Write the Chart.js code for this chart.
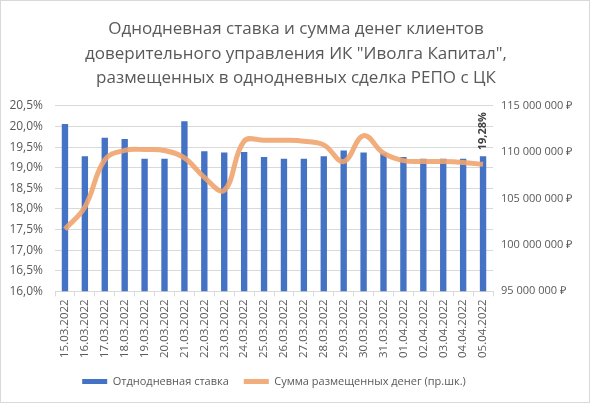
<!DOCTYPE html>
<html lang="ru">
<head>
<meta charset="utf-8">
<title>Однодневная ставка и сумма денег клиентов</title>
<script src="https://cdn.jsdelivr.net/npm/chart.js@4.4.1/dist/chart.umd.min.js"></script>
<style>
    html, body {
        margin: 0;
        padding: 0;
        background: #ffffff;
    }
    #repoChart {
        display: block;
    }
</style>
</head>
<body>
<canvas id="repoChart" width="590" height="403"></canvas>
<script>

const dates = [
    "15.03.2022", "16.03.2022", "17.03.2022", "18.03.2022", "19.03.2022",
    "20.03.2022", "21.03.2022", "22.03.2022", "23.03.2022", "24.03.2022",
    "25.03.2022", "26.03.2022", "27.03.2022", "28.03.2022", "29.03.2022",
    "30.03.2022", "31.03.2022", "01.04.2022", "02.04.2022", "03.04.2022",
    "04.04.2022", "05.04.2022"
];

// однодневная ставка, %
const rates = [
    20.06, 19.28, 19.73, 19.70, 19.22,
    19.22, 20.13, 19.40, 19.37, 19.38,
    19.26, 19.22, 19.22, 19.28, 19.42,
    19.37, 19.35, 19.26, 19.22, 19.22,
    19.22, 19.28
];

// сумма размещенных денег, руб.
const amounts = [
    101700000, 104100000, 109200000, 110200000, 110300000,
    110200000, 109400000, 107300000, 105900000, 111200000,
    111300000, 111300000, 111200000, 110800000, 109000000,
    111800000, 109900000, 109100000, 109000000, 109000000,
    108900000, 108700000
];

const titleLines = [
    "Однодневная ставка и сумма денег клиентов",
    "доверительного управления ИК \"Иволга Капитал\",",
    "размещенных в однодневных сделка РЕПО с ЦК"
];

const rateLabel = "Отднодневная ставка";
const amountLabel = "Сумма размещенных денег (пр.шк.)";

const rateTicks = { min: 16, max: 20.5, step: 0.5 };
const amountTicks = { min: 95000000, max: 115000000, step: 5000000 };

const BLUE = "#4472C4";
const ORANGE = "rgba(241, 164, 110, 0.9)";
const TEXT = "#595959";
const FONT = "'Open Sans', 'Liberation Sans', sans-serif";


function formatPercent(v) {

    return v.toFixed(1).replace(".", ",") + "%";

}

function formatRub(v) {

    return Math.round(v).toString().replace(/\B(?=(\d{3})+(?!\d))/g, " ") + " ₽";

}


/*-----------------------------------
  Белый фон и рамка области диаграммы
-----------------------------------*/

const chartFrame = {

    id: "chartFrame",

    beforeDraw(chart) {

        const ctx = chart.ctx;

        ctx.save();
        ctx.fillStyle = "#ffffff";
        ctx.fillRect(0, 0, chart.width, chart.height);
        ctx.strokeStyle = "#d9d9d9";
        ctx.lineWidth = 1;
        ctx.strokeRect(0.5, 0.5, chart.width - 1, chart.height - 1);
        ctx.restore();

    }

};


/*-----------------------------------
  Подпись последнего значения ставки
-----------------------------------*/

const lastRateLabel = {

    id: "lastRateLabel",

    afterDatasetsDraw(chart) {

        const meta = chart.getDatasetMeta(0);
        const last = meta.data[meta.data.length - 1];

        if (!last) {
            return;
        }

        const text = rates[rates.length - 1].toFixed(2).replace(".", ",") + "%";
        const ctx = chart.ctx;

        ctx.save();
        ctx.translate(last.x, last.y - 6);
        ctx.rotate(-Math.PI / 2);
        ctx.font = "bold 11px " + FONT;
        ctx.fillStyle = "#404040";
        ctx.textAlign = "left";
        ctx.textBaseline = "middle";
        ctx.fillText(text, 0, 0);
        ctx.restore();

    }

};


const canvas = document.getElementById("repoChart");

new Chart(canvas, {

    type: "bar",

    data: {

        labels: dates,

        datasets: [

            {
                type: "bar",
                label: rateLabel,
                data: rates,
                yAxisID: "yRate",
                backgroundColor: BLUE,
                barPercentage: 0.32,
                categoryPercentage: 1,
                order: 2
            },

            {
                type: "line",
                label: amountLabel,
                data: amounts,
                yAxisID: "yAmount",
                borderColor: ORANGE,
                backgroundColor: ORANGE,
                borderWidth: 5,
                tension: 0.4,
                pointRadius: 0,
                order: 1
            }

        ]

    },

    options: {

        responsive: false,
        animation: false,
        devicePixelRatio: 1,

        layout: {
            padding: { left: 6, right: 4, top: 0, bottom: 6 }
        },

        plugins: {

            title: {
                display: true,
                text: titleLines,
                color: TEXT,
                font: { family: FONT, size: 17, weight: "normal", lineHeight: 1.45 },
                padding: { top: 17, bottom: 15 }
            },

            legend: {
                position: "bottom",
                fullSize: false,
                labels: {
                    color: TEXT,
                    font: { family: FONT, size: 11 },
                    boxWidth: 25,
                    boxHeight: 5,
                    padding: 15,
                    generateLabels(chart) {
                        return chart.data.datasets.map((ds, i) => ({
                            text: ds.label,
                            fillStyle: i === 0 ? BLUE : ORANGE,
                            strokeStyle: i === 0 ? BLUE : ORANGE,
                            lineWidth: 0,
                            fontColor: TEXT,
                            datasetIndex: i
                        }));
                    }
                }
            },

            tooltip: {
                enabled: false
            }

        },

        scales: {

            x: {
                offset: true,
                grid: {
                    offset: true,
                    drawOnChartArea: false,
                    drawTicks: true,
                    tickLength: 5,
                    color: "#d9d9d9"
                },
                border: {
                    color: "#d9d9d9"
                },
                ticks: {
                    color: TEXT,
                    font: { family: FONT, size: 11.5 },
                    minRotation: 90,
                    maxRotation: 90,
                    autoSkip: false
                }
            },

            yRate: {
                position: "left",
                min: rateTicks.min,
                max: rateTicks.max,
                afterFit(scale) {
                    scale.width = 49;
                },
                grid: {
                    color: "#d9d9d9",
                    drawTicks: false
                },
                border: {
                    display: false
                },
                ticks: {
                    stepSize: rateTicks.step,
                    color: TEXT,
                    font: { family: FONT, size: 12 },
                    padding: 12,
                    callback: v => formatPercent(v)
                }
            },

            yAmount: {
                position: "right",
                min: amountTicks.min,
                max: amountTicks.max,
                afterFit(scale) {
                    scale.width = 93;
                },
                grid: {
                    drawOnChartArea: false,
                    drawTicks: false
                },
                border: {
                    display: false
                },
                ticks: {
                    stepSize: amountTicks.step,
                    color: TEXT,
                    font: { family: FONT, size: 11 },
                    padding: 8,
                    callback: v => formatRub(v)
                }
            }

        }

    },

    plugins: [chartFrame, lastRateLabel]

});

</script>
</body>
</html>
